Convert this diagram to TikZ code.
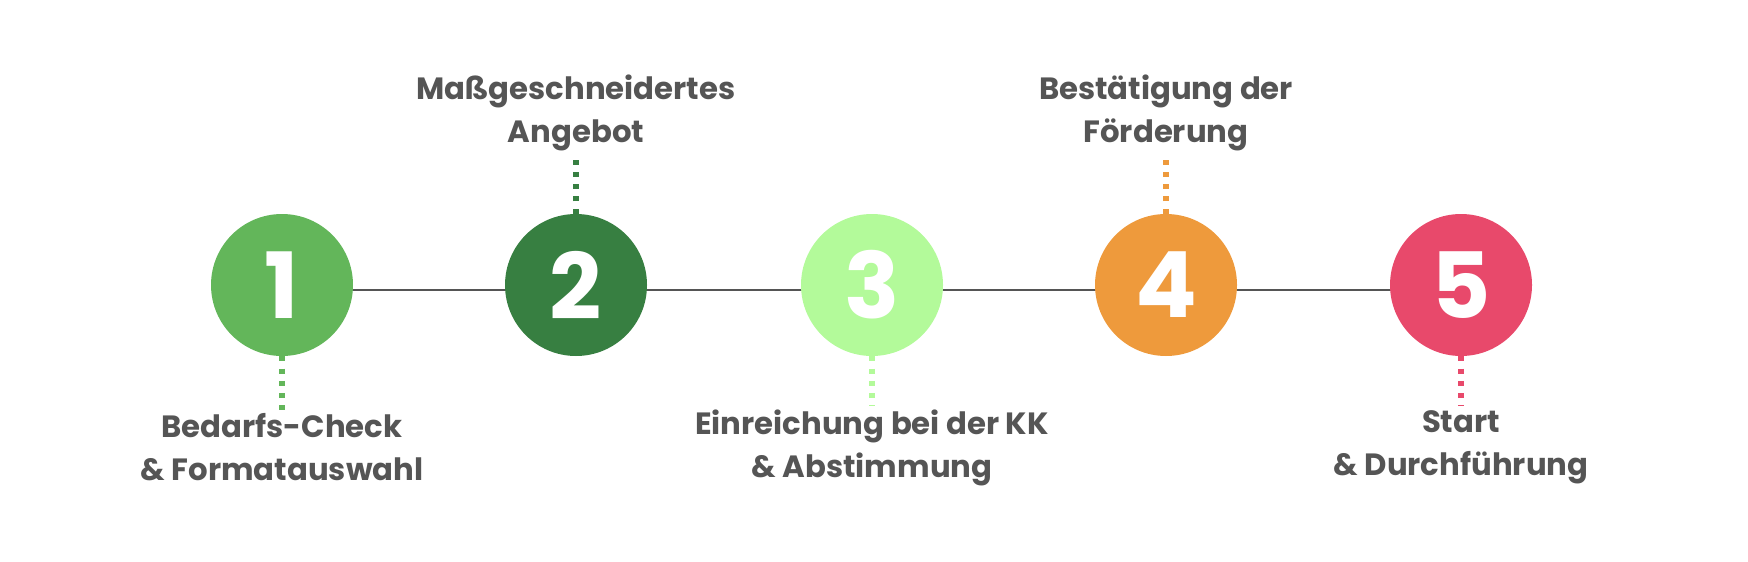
\documentclass[tikz,border=0pt]{standalone}
\usepackage{fontspec}
\setmainfont{Poppins}
\usepackage{xcolor}
\usepackage{tikz}
\usetikzlibrary{backgrounds}
\definecolor{stepone}{HTML}{63B65A}
\definecolor{steptwo}{HTML}{377F41}
\definecolor{stepthree}{HTML}{B3FA9A}
\definecolor{stepfour}{HTML}{EE9A3C}
\definecolor{stepfive}{HTML}{E8496B}
\definecolor{labelgray}{HTML}{555555}
\tikzset{
  stepdisc/.style  = {circle, minimum size=2.84cm, inner sep=0pt, text=white,
                      font=\fontsize{52}{52}\selectfont\bfseries},
  steptext/.style  = {align=center, text=labelgray, inner sep=0pt,
                      font=\fontsize{17.5}{24.5}\selectfont\bfseries},
  stepline/.style  = {draw=labelgray, line width=1.7pt},
  steplead/.style  = {line width=0.13cm, dash pattern=on 0.1cm off 0.145cm},
}

\begin{document}
\begin{tikzpicture}
  \useasboundingbox (0,0) rectangle (34.96,11.22);

  \node[stepdisc, fill=stepone]   (step1) at (5.64,5.52)  {1};
  \node[stepdisc, fill=steptwo]   (step2) at (11.52,5.52) {2};
  \node[stepdisc, fill=stepthree] (step3) at (17.44,5.52) {3};
  \node[stepdisc, fill=stepfour]  (step4) at (23.32,5.52) {4};
  \node[stepdisc, fill=stepfive]  (step5) at (29.22,5.52) {5};

  \begin{scope}[on background layer]
    \draw[stepline] ([yshift=-1mm]step1.center) -- ([yshift=-1mm]step2.center);
    \draw[stepline] ([yshift=-1mm]step2.center) -- ([yshift=-1mm]step3.center);
    \draw[stepline] ([yshift=-1mm]step3.center) -- ([yshift=-1mm]step4.center);
    \draw[stepline] ([yshift=-1mm]step4.center) -- ([yshift=-1mm]step5.center);
  \end{scope}

  \coordinate (tip1) at (5.64,3.02);
  \coordinate (tip2) at (11.52,8.14);
  \coordinate (tip3) at (17.44,3.10);
  \coordinate (tip4) at (23.32,8.14);
  \coordinate (tip5) at (29.22,3.10);

  \draw[steplead, draw=stepone]   (step1) -- (tip1);
  \draw[steplead, draw=steptwo]   (step2) -- (tip2);
  \draw[steplead, draw=stepthree] (step3) -- (tip3);
  \draw[steplead, draw=stepfour]  (step4) -- (tip4);
  \draw[steplead, draw=stepfive]  (step5) -- (tip5);

  \node[steptext] (lbl1) at (5.64,2.27)  {Bedarfs-Check\\\& Formatauswahl};
  \node[steptext] (lbl2) at (11.52,8.97) {Maßgeschneidertes\\Angebot};
  \node[steptext] (lbl3) at (17.44,2.27) {Einreichung bei der KK\\\& Abstimmung};
  \node[steptext] (lbl4) at (23.32,8.97) {Bestätigung der\\Förderung};
  \node[steptext] (lbl5) at (29.22,2.27) {Start\\\& Durchführung};
\end{tikzpicture}
\end{document}
